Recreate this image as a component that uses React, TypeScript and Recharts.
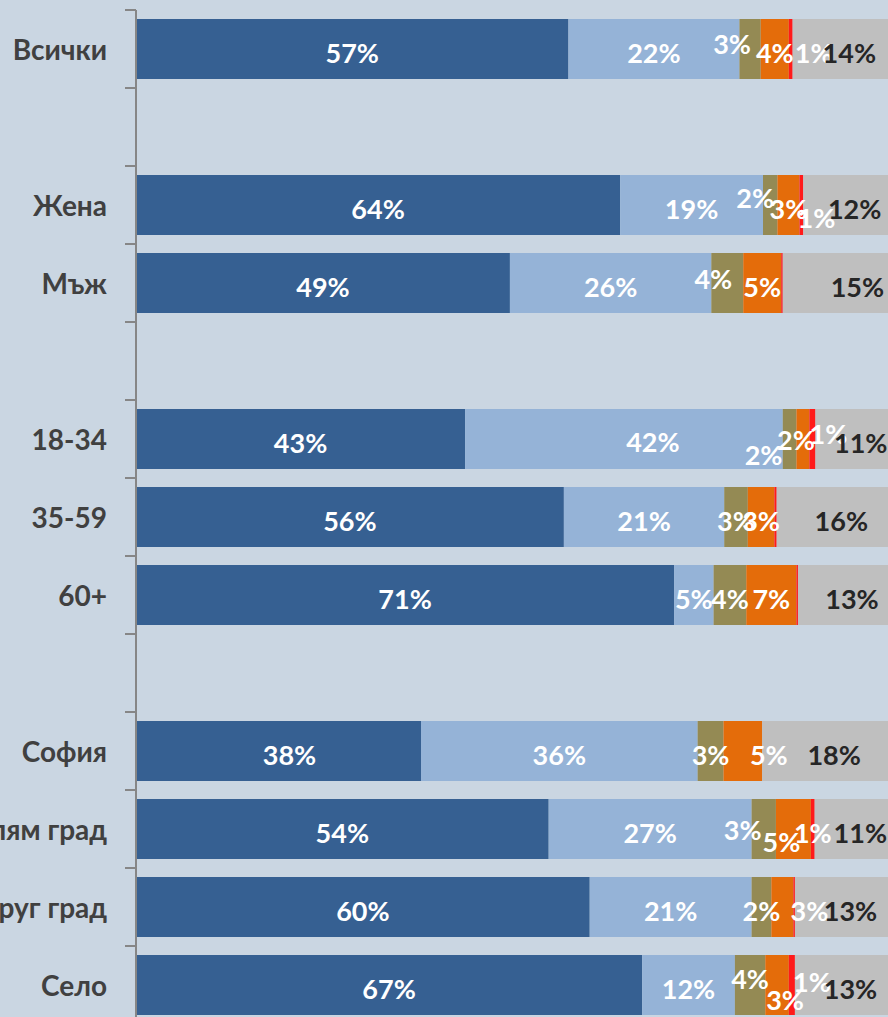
import React from 'react';
import { BarChart, Bar, XAxis, YAxis, LabelList } from 'recharts';

// Row categories (blank rows are the gaps between groups)
const categories = ['Всички', ' ', 'Жена', 'Мъж', '  ', '18-34', '35-59', '60+', '   ', 'София', 'Голям град', 'Друг град', 'Село'];

// Segment values (% of respondents); gap rows are empty (0)
const darkValues = [56.9, 0, 63.7, 49.2, 0, 43.3, 56.3, 70.8, 0, 37.5, 54.3, 59.7, 66.6];
const lightValues = [22.5, 0, 18.8, 26.5, 0, 41.8, 21.1, 5.2, 0, 36.4, 26.7, 21.3, 12.2];
const oliveValues = [2.8, 0, 1.9, 4.2, 0, 1.8, 3.1, 4.3, 0, 3.4, 3.2, 2.6, 4.0];
const orangeValues = [3.7, 0, 2.9, 5.0, 0, 1.7, 3.5, 6.6, 0, 5.1, 4.6, 2.9, 3.1];
const redValues = [0.5, 0, 0.5, 0.2, 0, 0.8, 0.3, 0.2, 0, 0, 0.5, 0.2, 0.8];
const grayValues = [13.6, 0, 12.2, 14.9, 0, 10.6, 15.7, 12.9, 0, 17.6, 10.7, 13.3, 13.3];

// Printed data labels (rounded percentages as shown)
const darkLabels = [57, null, 64, 49, null, 43, 56, 71, null, 38, 54, 60, 67];
const lightLabels = [22, null, 19, 26, null, 42, 21, 5, null, 36, 27, 21, 12];
const oliveLabels = [3, null, 2, 4, null, 2, 3, 4, null, 3, 3, 2, 4];
const orangeLabels = [4, null, 3, 5, null, 2, 3, 7, null, 5, 5, 3, 3];
const redLabels = [1, null, 1, null, null, 1, null, null, null, null, 1, null, 1];
const grayLabels = [14, null, 12, 15, null, 11, 16, 13, null, 18, 11, 13, 13];

// Label nudges (dx, dy) for the manually moved small labels
const labelNudge: Record<string, [number, number]> = {
  'olive-0': [-18, -9], 'red-0': [23, 0],
  'olive-2': [-15, -11], 'red-2': [15, 9],
  'olive-3': [-14, -8],
  'light-5': [29, -1], 'olive-5': [-26, 12], 'orange-5': [-7, -3], 'red-5': [16, -9],
  'dark-9': [11, 0], 'orange-9': [26, 0],
  'olive-10': [-21, -3], 'orange-10': [-12, 9],
  'orange-11': [27, 0],
  'olive-12': [0, -10], 'orange-12': [8, 11], 'red-12': [20, -7],
  'gray-3': [13, 0],
};

const series = [
  { key: 'dark', values: darkValues, labels: darkLabels, color: '#366092', text: '#FFFFFF' },
  { key: 'light', values: lightValues, labels: lightLabels, color: '#95B3D7', text: '#FFFFFF' },
  { key: 'olive', values: oliveValues, labels: oliveLabels, color: '#948A54', text: '#FFFFFF' },
  { key: 'orange', values: orangeValues, labels: orangeLabels, color: '#E46C0A', text: '#FFFFFF' },
  { key: 'red', values: redValues, labels: redLabels, color: '#FF1A1A', text: '#FFFFFF' },
  { key: 'gray', values: grayValues, labels: grayLabels, color: '#BFBFBF', text: '#262626' },
];

const data = categories.map((name, i) => {
  const row: Record<string, any> = { name, rowId: `r${i}` };
  series.forEach((s) => {
    row[s.key] = s.values[i];
  });
  return row;
});

const FONT = 'Lato, "Open Sans", sans-serif';
const CHART_H = 1024;
const MARGIN_TOP = 10;
const AXIS_W = 136;
const TICK_MARGIN = 29;
const TICK_LEN = 11;
const HALF_BAND = (CHART_H - MARGIN_TOP) / categories.length / 2;

const makeLabel = (s: any) => (props: any) => {
  const { x, y, width, height, value } = props;
  const idx = parseInt(String(value).slice(1), 10);
  if (Number.isNaN(idx)) return null;
  const v = s.labels[idx];
  if (v === null || v === undefined) return null;
  const n = labelNudge[`${s.key}-${idx}`] || [0, 0];
  const extra = s.key === 'gray' ? 5 : 0;
  return (
    <text
      x={Number(x) + Number(width) / 2 + n[0] + extra}
      y={Number(y) + Number(height) / 2 + 3 + n[1]}
      textAnchor="middle"
      dominantBaseline="central"
      fill={s.text}
      fontFamily={FONT}
      fontWeight="bold"
      fontSize={27}
    >
      {`${v}%`}
    </text>
  );
};

const CategoryTick = (props: any) => {
  const { x, y, payload, index } = props;
  const ax = Number(x) + TICK_MARGIN;
  return (
    <g>
      <line x1={ax - TICK_LEN} x2={ax} y1={y - HALF_BAND} y2={y - HALF_BAND} stroke="#868686" strokeWidth={2} />
      {index === categories.length - 1 && (
        <line x1={ax - TICK_LEN} x2={ax} y1={y + HALF_BAND} y2={y + HALF_BAND} stroke="#868686" strokeWidth={2} />
      )}
      <text
        x={x}
        y={y}
        textAnchor="end"
        dominantBaseline="central"
        fill="#404040"
        fontSize={28}
        fontWeight="bold"
        fontFamily={FONT}
      >
        {payload.value}
      </text>
    </g>
  );
};

export default function App() {
  return (
    <div
      style={{
        position: 'absolute',
        left: 0,
        top: 0,
        width: 888,
        height: 1017,
        overflow: 'hidden',
        background: '#CAD6E2',
      }}
    >
      <BarChart
        width={900}
        height={CHART_H}
        data={data}
        layout="vertical"
        margin={{ top: MARGIN_TOP, right: 4, bottom: 0, left: 0 }}
        barSize={60}
      >
        <XAxis type="number" domain={[0, 100]} hide allowDataOverflow />
        <YAxis
          type="category"
          dataKey="name"
          width={AXIS_W}
          axisLine={{ stroke: '#868686', strokeWidth: 2 }}
          tickLine={false}
          tickSize={0}
          tickMargin={TICK_MARGIN}
          interval={0}
          tick={<CategoryTick />}
        />
        {series.map((s) => (
          <Bar key={s.key} dataKey={s.key} stackId="a" fill={s.color} isAnimationActive={false}>
            <LabelList dataKey="rowId" content={makeLabel(s)} />
          </Bar>
        ))}
      </BarChart>
    </div>
  );
}
